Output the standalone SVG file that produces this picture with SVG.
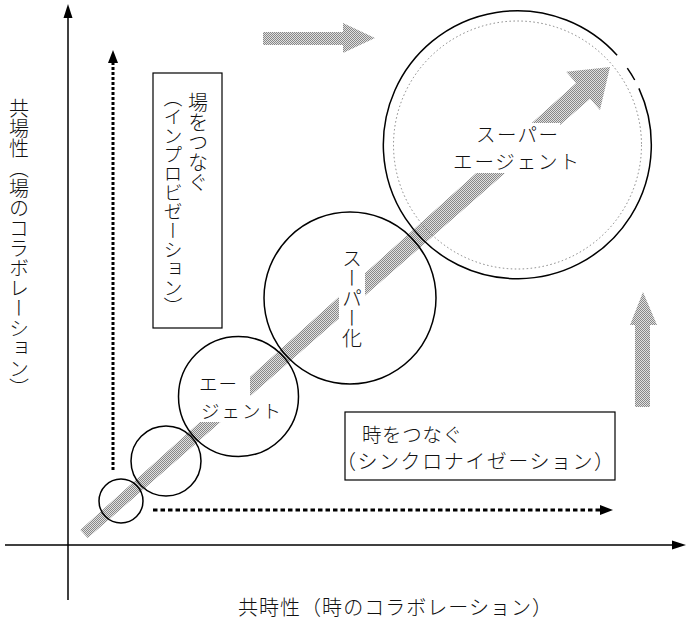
<svg xmlns="http://www.w3.org/2000/svg" width="686" height="626" viewBox="0 0 686 626">
<style>
.ax{stroke:#000;stroke-width:1.5;fill:none}
.dotv{stroke:#000;stroke-width:3;fill:none;stroke-dasharray:3 2}
.doth{stroke:#000;stroke-width:3;fill:none;stroke-dasharray:4.5 3}
.head{fill:#000}
.box{fill:none;stroke:#000;stroke-width:1.2}
.circ{fill:none;stroke:#000;stroke-width:1.5}
.t{font-family:"Noto Sans CJK JP","Noto Sans CJK SC",sans-serif;font-weight:300;fill:#111}
.v{writing-mode:vertical-rl}
.mask{fill:#fff}
</style>
<defs>
<pattern id="hatch" width="2" height="2" patternUnits="userSpaceOnUse">
<rect width="2" height="2" fill="#e0e0e0"/>
<rect x="0" y="0" width="1" height="1" fill="#888"/>
<rect x="1" y="1" width="1" height="1" fill="#888"/>
</pattern>
</defs>
<rect width="686" height="626" fill="#fff"/>

<g id="connectors">
<line class="ax" x1="68" y1="600" x2="68" y2="16"/>
<polygon class="head" points="68,4 63.5,18 72.5,18"/>
<line class="ax" x1="5" y1="545" x2="673" y2="545"/>
<polygon class="head" points="686,545 672,540.5 672,549.5"/>
<line class="dotv" x1="113" y1="470" x2="113" y2="62"/>
<polygon class="head" points="113,50 108,63 118,63"/>
<line class="doth" x1="153" y1="510" x2="601" y2="510"/>
<polygon class="head" points="613,510 600,505 600,515"/>
</g>

<g id="gray-arrows">
<polygon fill="url(#hatch)" points="263,32 343,32 343,23 375,38 343,53 343,45 263,45"/>
<polygon fill="url(#hatch)" points="635,407 635,325 630,325 643,292 657,325 650,325 650,407"/>
<polygon id="diag-arrow" fill="url(#hatch)" points="80.3,529.9 576.1,83.0 566.2,71.8 610,67 600,110 590.1,98.8 87.7,538.1"/>
</g>

<g id="text-masks">
<rect class="mask" x="339" y="245" width="26" height="108"/>
<rect class="mask" x="198" y="375" width="52" height="23"/>
<rect class="mask" x="198" y="398" width="86" height="24"/>
<rect class="mask" x="474" y="123" width="86" height="27"/>
<rect class="mask" x="452" y="150" width="128" height="23"/>
</g>

<g id="node-p1"><circle class="circ" cx="121" cy="501" r="22"/></g>
<g id="node-p2"><circle class="circ" cx="166" cy="461" r="35"/></g>
<g id="node-agent">
<circle class="circ" cx="238.5" cy="396.5" r="60"/>
<text class="t" x="199" y="391" font-size="18.5" textLength="38">エー</text>
<text class="t" x="201" y="418" font-size="18.5" textLength="80">ジェント</text>
</g>
<g id="node-super">
<circle class="circ" cx="350" cy="298" r="86"/>
<text class="t v" x="352" y="248" font-size="20">スーパー化</text>
</g>
<g id="node-superagent">
<path class="circ" d="M638.9,88.4 A134,134 0 1 1 617.1,55.3 M627.3,68.1 A134,134 0 0 1 634.7,80.0"/>
<circle cx="517.5" cy="145" r="124" fill="none" stroke="#666" stroke-width="0.8" stroke-dasharray="1.5 2.5"/>
<text class="t" x="476" y="142" font-size="19.5" textLength="82">スーパー</text>
<text class="t" x="453" y="169" font-size="19.5" textLength="126">エージェント</text>
</g>

<g id="box-place">
<rect class="box" x="153" y="73" width="69" height="255"/>
<text class="t v" x="198" y="92" font-size="20">場をつなぐ</text>
<text class="t v" x="173" y="88" font-size="19">（インプロビゼーション）</text>
</g>
<g id="box-time">
<rect class="box" x="345" y="412" width="270" height="68"/>
<text class="t" x="362" y="442" font-size="19.5" textLength="100">時をつなぐ</text>
<text class="t" x="336" y="469" font-size="20" textLength="278">（シンクロナイゼーション）</text>
</g>

<g id="axis-labels">
<text class="t v" x="19" y="98" font-size="20">共場性（場のコラボレーション）</text>
<text class="t" x="238" y="615" font-size="20" textLength="314">共時性（時のコラボレーション）</text>
</g>
</svg>
